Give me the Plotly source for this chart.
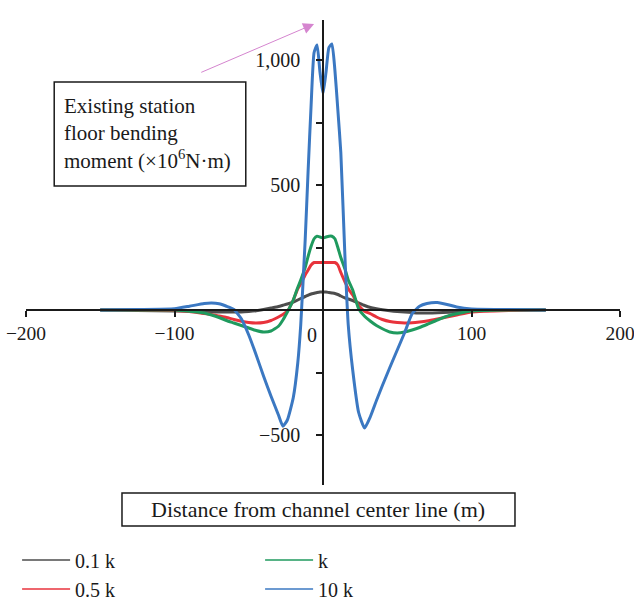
import plotly.graph_objects as go

# ---------------- data ----------------
x_pos = [-150, -125, -100, -90, -80, -75, -70, -65, -60, -55, -50, -45, -40, -35, -30, -27, -24,
         -20, -17, -15, -12, -10, -8, -6, -4, -2, 0, 2, 4, 6, 8, 10, 12, 15, 17, 20, 24, 28,
         32, 36, 40, 45, 50, 55, 60, 65, 70, 77, 85, 90, 100, 125, 150]

m_01k = [0, -2, -4, -5, -6, -7, -8, -8, -8, -8, -6, -3, 2, 8, 14, 19, 24,
         32, 40, 46, 54, 59, 64, 67, 70, 72, 72, 72, 70, 68, 66, 62, 56, 48, 44, 38, 28, 18,
         10, 5, 1, -3, -6, -8, -10, -12, -12, -11, -9, -7, -4, -1, 0]

m_05k = [0, 0, -2, -6, -14, -18, -24, -30, -38, -45, -50, -52, -50, -42, -28, -18, -5,
         40, 85, 105, 140, 160, 180, 190, 190, 190, 190, 190, 190, 190, 190, 180, 150, 110, 85, 60, 18, -5,
         -15, -28, -38, -46, -50, -52, -51, -48, -44, -36, -26, -20, -8, -2, 0]

m_1k = [0, 0, 0, -5, -12, -20, -30, -42, -52, -62, -72, -82, -88, -84, -65, -40, -8,
        40, 90, 120, 170, 215, 255, 285, 295, 292, 288, 292, 295, 295, 285, 250, 210, 160, 120, 80, 5, -25,
        -45, -62, -75, -88, -92, -88, -80, -70, -58, -40, -22, -15, -4, 0, 0]

m_10k = [0, 2, 5, 15, 26, 28, 25, 15, 2, -35, -100, -180, -265, -345, -420, -465, -440,
         -350, -212, -60, 280, 560, 820, 1030, 1060, 950, 865, 950, 1050, 1064, 960, 800, 630, 180, -60, -240, -410, -472,
         -425, -362, -302, -230, -160, -90, -15, 15, 26, 30, 20, 12, 4, 2, 0]

series_names = ["0.1 k", "0.5 k", "k", "10 k"]
series_vals = [m_01k, m_05k, m_1k, m_10k]
series_colors = ["#4d4d4d", "#e8333c", "#1f9a5e", "#3b78c2"]
legend_rank = [1, 3, 2, 4]

x_tickvals = [-200, -100, 100, 200]
x_ticktext = ["\u2212200", "\u2212100", "100", "200"]
y_tickvals = [-500, -250, 250, 500, 750, 1000]
y_ticktext = ["\u2212500", "", "", "500", "", "1,000"]

X_RANGE = [-200, 200]
Y_RANGE = [-700, 1160]

FONT = "Liberation Serif"

fig = go.Figure()

for name, vals, col in zip(series_names, series_vals, series_colors):
    fig.add_trace(go.Scatter(x=x_pos, y=vals, mode="lines", name=name,
                             line=dict(color=col, width=3, shape="spline", smoothing=0.5),
                             showlegend=False))

# legend entries (thin lines)
for name, col, rk in zip(series_names, series_colors, legend_rank):
    fig.add_trace(go.Scatter(x=[None], y=[None], mode="lines", name=name,
                             line=dict(color=col, width=1.5), legendrank=rk))

y_frac = (0 - Y_RANGE[0]) / (Y_RANGE[1] - Y_RANGE[0])

fig.update_layout(
    width=634, height=601,
    margin=dict(l=26, r=14, t=20, b=116, autoexpand=False),
    paper_bgcolor="white", plot_bgcolor="white",
    font=dict(family=FONT, size=20, color="#1a1a1a"),
    xaxis=dict(range=X_RANGE, anchor="free", position=y_frac, showline=True,
               linecolor="#1a1a1a", linewidth=1.5, ticks="outside", ticklen=6,
               tickcolor="#1a1a1a", tickwidth=1.5, tickvals=x_tickvals, ticktext=x_ticktext,
               showgrid=False, zeroline=False, ticklabelstandoff=0, automargin=False,
               ticklabeloverflow="allow", tickfont=dict(size=19.5, family=FONT)),
    yaxis=dict(range=Y_RANGE, anchor="free", position=0.5, showline=True,
               linecolor="#1a1a1a", linewidth=1.5, ticks="outside", ticklen=6,
               tickcolor="#1a1a1a", tickwidth=1.5, tickvals=y_tickvals, ticktext=y_ticktext,
               showgrid=False, zeroline=False, ticklabelstandoff=12, automargin=False,
               tickfont=dict(size=20, family=FONT)),
    legend=dict(orientation="h", x=-0.015, xanchor="left", y=-0.1195, yanchor="top",
                entrywidth=180, itemwidth=48, font=dict(size=20, family=FONT), tracegroupgap=0),
    showlegend=True,
)

# "0" label near origin
fig.add_annotation(x=0, y=0, text="0", showarrow=False, xanchor="right", yanchor="top",
                   xshift=-4, yshift=-12, font=dict(size=20, family=FONT))

# boxed label (y quantity)
fig.add_shape(type="rect", xref="x", yref="y", x0=-181, x1=-52, y0=496, y1=912,
              line=dict(color="#1a1a1a", width=1.5), fillcolor="white")
fig.add_annotation(x=-175.5, y=872, xref="x", yref="y", xanchor="left", yanchor="top",
                   align="left", showarrow=False,
                   text="Existing station<br>floor bending<br>moment (\u00d710<sup>6</sup>N\u00b7m)",
                   font=dict(size=21, family=FONT))

# pink arrow
fig.add_annotation(x=-6, y=1144, ax=-83, ay=948, xref="x", yref="y", axref="x", ayref="y",
                   text="", showarrow=True, arrowhead=2, arrowsize=2.2, arrowwidth=1,
                   arrowcolor="#d585cf")

# boxed x-axis title
fig.add_shape(type="rect", xref="paper", yref="paper", x0=0.1616, x1=0.8232, y0=-0.0882, y1=-0.0172,
              line=dict(color="#1a1a1a", width=1.5), fillcolor="white")
fig.add_annotation(x=0.4916, y=-0.0527, xref="paper", yref="paper", showarrow=False,
                   xanchor="center", yanchor="middle",
                   text="Distance from channel center line (m)", font=dict(size=22, family=FONT))

fig.write_html("out.html")
